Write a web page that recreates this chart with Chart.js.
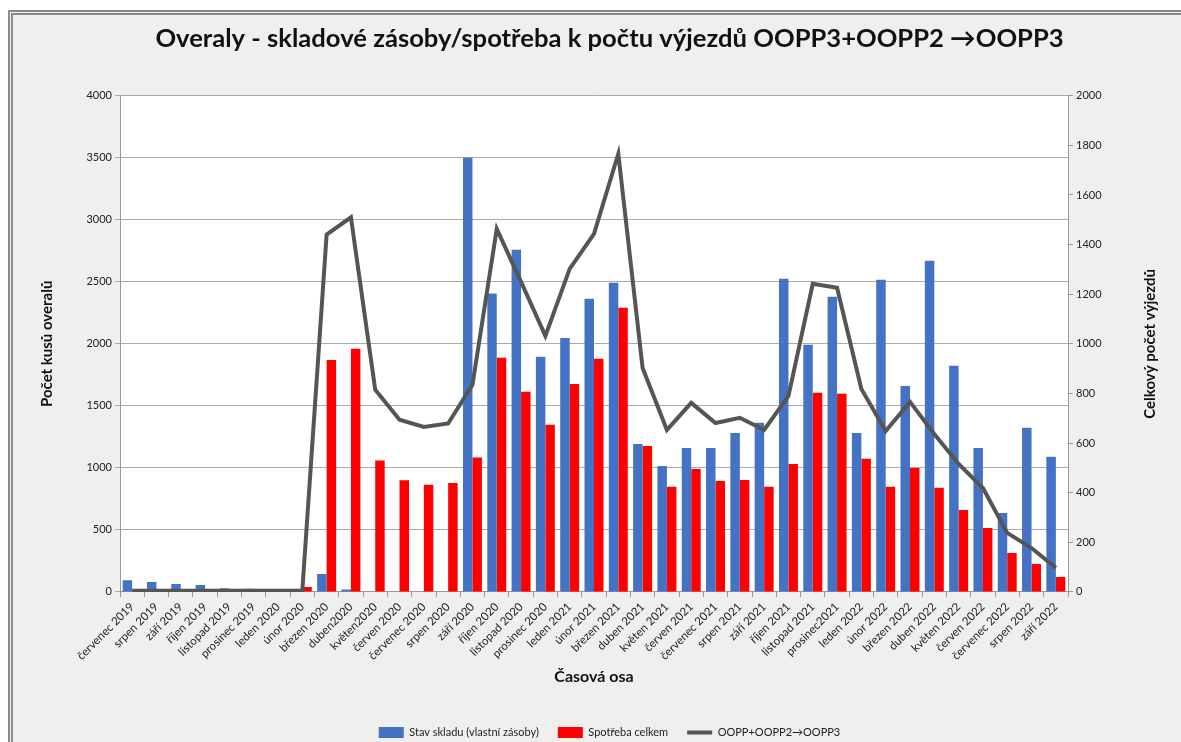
<!DOCTYPE html>
<html>
<head>
<meta charset="utf-8">
<script src="https://cdn.jsdelivr.net/npm/chart.js@4.4.0/dist/chart.umd.min.js"></script>
<style>
  html, body { margin: 0; padding: 0; background: #ffffff; }
  #wrap { position: relative; width: 1181px; height: 742px; overflow: hidden; }
  #frame { position: absolute; left: 8px; top: 10px; right: -10px; bottom: -10px;
           border-left: 5px double #8a8a8a; border-top: 5px double #8a8a8a; background: #efefee; }
  #myChart { position: absolute; left: 0; top: 0; }
</style>
</head>
<body>
<div id="wrap"><div id="frame"></div><canvas id="myChart" width="1181" height="742"></canvas></div>
<script>
var months = [
  "červenec 2019", "srpen 2019", "září 2019", "říjen 2019", "listopad 2019", "prosinec 2019",
  "leden 2020", "únor 2020", "březen 2020", "duben2020", "květen2020", "červen 2020",
  "červenec 2020", "srpen 2020", "září 2020", "říjen 2020", "listopad 2020", "prosinec 2020",
  "leden 2021", "únor 2021", "březen 2021", "duben 2021", "květen 2021", "červen 2021",
  "červenec 2021", "srpen 2021", "září 2021", "říjen 2021", "listopad 2021", "prosinec2021",
  "leden 2022", "únor 2022", "březen 2022", "duben 2022", "květen 2022", "červen 2022",
  "červenec 2022", "srpen 2022", "září 2022"
];
var stavSkladu = [
  95, 80, 65, 55, 30, 25, 0, 0, 145, 20, 0, 0,
  0, 0, 3500, 2405, 2758, 1895, 2048, 2363, 2492, 1193, 1016, 1161,
  1161, 1282, 1363, 2524, 1992, 2379, 1282, 2516, 1661, 2670, 1823, 1161,
  637, 1323, 1089
];
var spotreba = [
  10, 20, 10, 20, 10, 20, 0, 40, 1870, 1960, 1060, 900,
  865, 878, 1083, 1887, 1613, 1347, 1677, 1879, 2290, 1177, 847, 992,
  895, 903, 847, 1032, 1605, 1597, 1073, 847, 1000, 839, 661, 516,
  314, 226, 121
];
var vyjezdy = [
  5, 5, 5, 5, 5, 5, 5, 5, 1440, 1510, 815, 694,
  665, 679, 835, 1463, 1250, 1032, 1302, 1443, 1766, 903, 653, 762,
  681, 702, 653, 790, 1242, 1226, 818, 649, 766, 637, 516, 419,
  238, 177, 97
];
var leftTicks = [0, 500, 1000, 1500, 2000, 2500, 3000, 3500, 4000];
var rightTicks = [0, 200, 400, 600, 800, 1000, 1200, 1400, 1600, 1800, 2000];

var titleText = "Overaly - skladové zásoby/spotřeba k počtu výjezdů OOPP3+OOPP2 →OOPP3";
var leftTitle = "Počet kusů overalů";
var rightTitle = "Celkový počet výjezdů";
var xTitle = "Časová osa";

var FONT = "Lato, 'Open Sans', sans-serif";

var bgPlugin = {
  id: "bgPlugin",
  beforeDraw: function (chart) {
    var ctx = chart.ctx, a = chart.chartArea;
    ctx.save();
    ctx.fillStyle = "#ffffff";
    ctx.fillRect(a.left, a.top, a.right - a.left, a.bottom - a.top);
    ctx.restore();
  },
  afterDraw: function (chart) {
    var ctx = chart.ctx, a = chart.chartArea;
    ctx.save();
    ctx.fillStyle = "#111";
    ctx.font = "bold 15px " + FONT;
    ctx.textAlign = "center";
    ctx.textBaseline = "middle";
    ctx.translate(1150, (a.top + a.bottom) / 2);
    ctx.rotate(-Math.PI / 2);
    ctx.fillText(rightTitle, 0, 0);
    ctx.restore();
  }
};

function plain(v) { return String(v); }

new Chart(document.getElementById("myChart"), {
  type: "bar",
  data: {
    labels: months,
    datasets: [
      {
        label: "Stav skladu (vlastní zásoby)",
        data: stavSkladu,
        backgroundColor: "#4472c4",
        pointStyle: "rect",
        yAxisID: "y",
        order: 2
      },
      {
        label: "Spotřeba celkem",
        data: spotreba,
        backgroundColor: "#ff0000",
        pointStyle: "rect",
        yAxisID: "y",
        order: 2
      },
      {
        type: "line",
        label: "OOPP+OOPP2→OOPP3",
        data: vyjezdy,
        borderColor: "#555555",
        backgroundColor: "#555555",
        borderWidth: 4,
        pointRadius: 0,
        pointStyle: "line",
        tension: 0,
        yAxisID: "y1",
        order: 1
      }
    ]
  },
  options: {
    responsive: false,
    animation: false,
    layout: { padding: { left: 38, right: 0, top: 0, bottom: -6 } },
    datasets: {
      bar: { categoryPercentage: 0.78, barPercentage: 1.0 }
    },
    plugins: {
      title: {
        display: true,
        text: titleText,
        color: "#111",
        font: { family: FONT, size: 25.6, weight: "bold" },
        padding: { top: 23, bottom: 42 }
      },
      legend: {
        position: "bottom",
        labels: {
          color: "#222",
          font: { family: FONT, size: 11 },
          usePointStyle: true,
          pointStyleWidth: 25,
          boxHeight: 11,
          padding: 19,
          sort: function (a, b) { return a.datasetIndex - b.datasetIndex; }
        }
      },
      tooltip: { enabled: false }
    },
    scales: {
      x: {
        grid: { display: true, drawOnChartArea: false, drawTicks: true, tickLength: 5, color: "#999" },
        border: { color: "#999" },
        ticks: {
          color: "#222",
          font: { family: FONT, size: 11.5 },
          minRotation: 45,
          maxRotation: 45,
          autoSkip: false
        },
        title: {
          display: true,
          text: xTitle,
          color: "#111",
          font: { family: FONT, size: 16, weight: "bold" },
          padding: { top: 1, bottom: 22 }
        }
      },
      y: {
        position: "left",
        min: 0,
        max: 4000,
        afterBuildTicks: function (s) { s.ticks = leftTicks.map(function (v) { return { value: v }; }); },
        afterFit: function (s) { s.width = 82; },
        grid: { color: "#aaa", tickLength: 5 },
        border: { color: "#999" },
        ticks: { color: "#222", font: { family: FONT, size: 11 }, callback: plain },
        title: {
          display: true,
          text: leftTitle,
          color: "#111",
          font: { family: FONT, size: 15, weight: "bold" },
          padding: { top: 0, bottom: 0 }
        }
      },
      y1: {
        position: "right",
        min: 0,
        max: 2000,
        afterBuildTicks: function (s) { s.ticks = rightTicks.map(function (v) { return { value: v }; }); },
        afterFit: function (s) { s.width = 113; },
        grid: { drawOnChartArea: false, color: "#999", tickLength: 5 },
        border: { color: "#999" },
        ticks: { color: "#222", font: { family: FONT, size: 11 }, callback: plain }
      }
    }
  },
  plugins: [bgPlugin]
});
</script>
</body>
</html>
